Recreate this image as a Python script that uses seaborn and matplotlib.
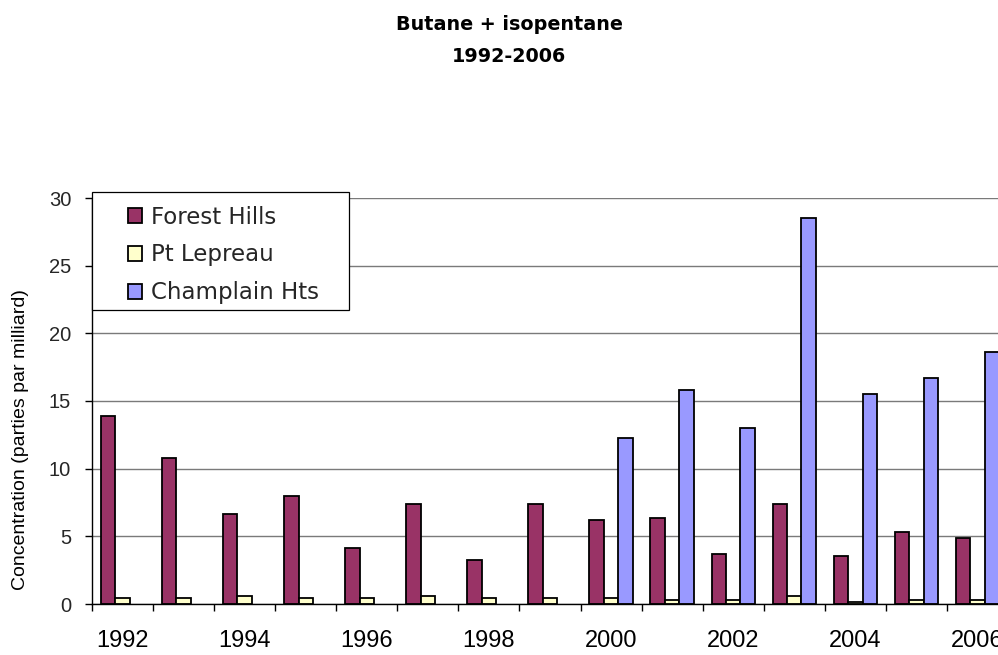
import numpy as np
import pandas as pd
import seaborn as sns
import matplotlib.pyplot as plt
from matplotlib.patches import Patch, Rectangle

# values (parties par milliard)
years = [str(y) for y in range(1992, 2007)]
forest_hills = [13.9, 10.8, 6.65, 7.98, 4.14, 7.39, 3.25, 7.39, 6.21, 6.38, 3.70, 7.39, 3.55, 5.32, 4.85]
pt_lepreau = [0.44, 0.44, 0.61, 0.44, 0.44, 0.59, 0.44, 0.44, 0.44, 0.30, 0.30, 0.59, 0.17, 0.30, 0.30]
champlain_hts = [np.nan] * 8 + [12.27, 15.8, 13.0, 28.5, 15.5, 16.7, 18.6]
sites = ["Forest Hills", "Pt Lepreau", "Champlain Hts"]
colors = ["#993366", "#FFFFCC", "#9999FF"]

df = pd.DataFrame({"year": years,
                   sites[0]: forest_hills,
                   sites[1]: pt_lepreau,
                   sites[2]: champlain_hts})
df = df.melt(id_vars="year", var_name="site", value_name="value").dropna()

sns.set_theme(style="white")
plt.rcParams['font.family'] = ['Liberation Sans', 'DejaVu Sans']

fig = plt.figure(figsize=(9.98, 6.55), dpi=100)
# axes runs a bit past the right edge, like the original
ax = fig.add_axes([92 / 998, 1 - 604 / 655, 916 / 998, 406 / 655])

sns.barplot(data=df, x="year", y="value", hue="site", order=years, hue_order=sites,
            palette=colors, saturation=1, width=0.71, edgecolor="black", linewidth=1.3,
            errorbar=None, legend=False, ax=ax)

ax.set_xlim(-0.5, 14.5)
ax.set_ylim(0, 30)
ax.set_yticks(range(0, 31, 5))
ax.set_xticks(range(0, 15, 2))
ax.set_xticklabels(years[::2])
ax.set_xticks(np.arange(-0.5, 15, 1), minor=True)

ax.yaxis.grid(True, color="#7a7a7a", linewidth=1)
ax.set_axisbelow(True)
for s in ["top", "right"]:
    ax.spines[s].set_visible(False)
for s in ["left", "bottom"]:
    ax.spines[s].set_color("black")
    ax.spines[s].set_linewidth(1)

ax.tick_params(axis="x", which="major", length=0, pad=19, labelsize=17, colors="black")
ax.tick_params(axis="x", which="minor", length=5, width=1, direction="out", color="black", bottom=True)
ax.tick_params(axis="y", length=5, width=1, direction="out", color="black", pad=10,
               labelsize=14.5, left=True)

ax.set_xlabel("")
ax.set_ylabel("Concentration (parties par milliard)", fontsize=14, color="black")
ax.yaxis.set_label_coords(-0.0688, 0.404)

# legend box
box = Rectangle((92 / 998, 1 - 310 / 655), (349 - 92) / 998, (310 - 192) / 655,
                transform=fig.transFigure, facecolor="white", edgecolor="black",
                linewidth=0.9, zorder=4, clip_on=False)
ax.add_patch(box)
handles = [Patch(facecolor=c, edgecolor="black", linewidth=1.3) for c in colors]
leg = ax.legend(handles, sites, loc="upper left",
                bbox_to_anchor=(128 / 998, 1 - 205.5 / 655), bbox_transform=fig.transFigure,
                frameon=False, borderpad=0, borderaxespad=0, handlelength=0.61,
                handleheight=0.61, handletextpad=0.39, labelspacing=0.65,
                prop={"family": "DejaVu Sans", "size": 16.5})
leg.set_zorder(5)

fig.text(0.51, 1 - 24 / 655, "Butane + isopentane", ha="center", va="center",
         fontsize=13.8, fontweight="bold", family="DejaVu Sans", color="black")
fig.text(0.51, 1 - 56 / 655, "1992-2006", ha="center", va="center",
         fontsize=13.8, fontweight="bold", family="DejaVu Sans", color="black")

fig.savefig("out.png", dpi=100)
